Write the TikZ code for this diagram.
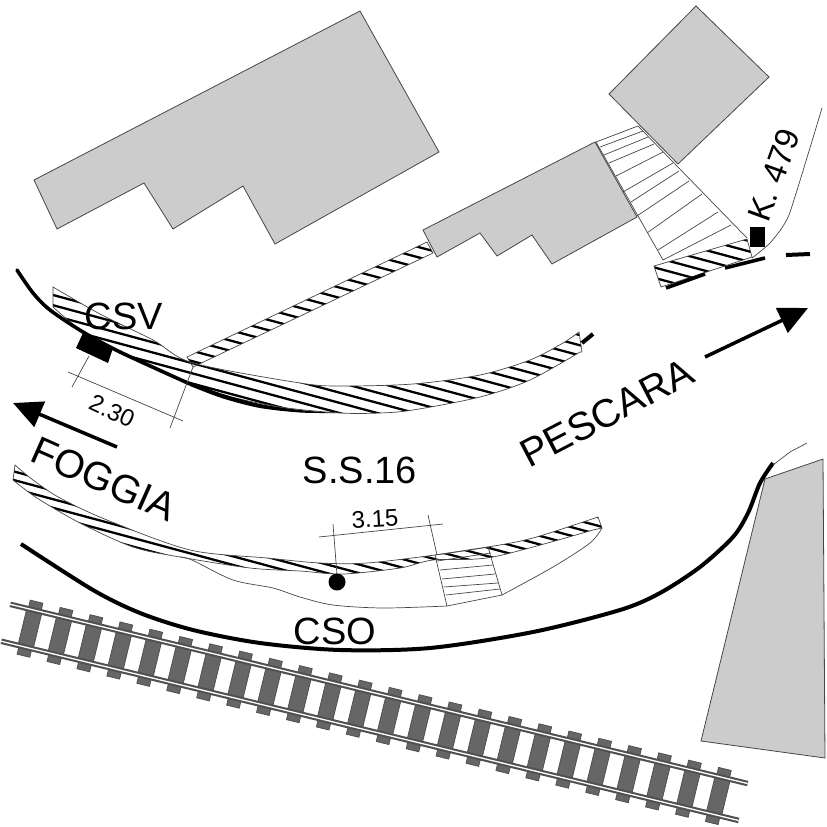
\documentclass[tikz,border=0pt]{standalone}
\usepackage{fontspec}
\setmainfont{Liberation Sans}
\usetikzlibrary{arrows.meta}
\definecolor{bldggray}{RGB}{204,204,204}
\definecolor{edgegray}{RGB}{70,70,70}
\definecolor{railgray}{RGB}{80,80,80}
\definecolor{tiegray}{RGB}{102,102,102}
\tikzset{
  bldg/.style={fill=bldggray,draw=edgegray,line width=0.8pt},
  thinln/.style={draw=edgegray,line width=0.7pt},
  hatchln/.style={black,line width=2.3pt},
  kerb/.style={black,line width=3.6pt},
  rail/.style={draw=railgray,double=white,double distance=1.3pt,line width=2.1pt},
  tie/.style={fill=tiegray,draw=railgray,line width=0.8pt},
  bigarrow/.style={black,line width=3.5pt,-{Triangle[length=29pt,width=27pt]}},
  biglabel/.style={inner sep=0pt,font=\fontsize{38}{40}\selectfont},
  roadlabel/.style={inner sep=0pt,font=\fontsize{39.5}{41}\selectfont},
  dimlabel/.style={inner sep=0pt,font=\fontsize{24}{26}\selectfont}
}
% strips, as closed paths in reference pixels
\newcommand{\mainstrip}{plot[smooth] coordinates {(53,287) (100,314) (153,340) (193,363) (300,383) (340,386) (413,384) (480,375) (530,360) (563,343) (579,332)} -- (582,352) -- plot[smooth] coordinates {(580,352) (530,380) (480,397) (413,410) (380,413) (340,413) (280,407) (223,395) (190,383) (120,352) (83,332) (53,307)} -- cycle}
\newcommand{\sidestrip}{(187,357) -- (427,242) -- (433,253) -- (193,367) -- cycle}
\newcommand{\lowstrip}{plot[smooth] coordinates {(15,465) (33,480) (60,498) (107,520) (190,550) (267,558) (320,563) (367,563) (435,555) (488,547) (533,538) (598,517)} -- (602,528) -- plot[smooth] coordinates {(593,530) (493,557) (433,560) (400,568) (343,574) (300,571) (250,568) (180,557) (133,547) (80,523) (37,498) (13,480)} -- cycle}
\newcommand{\cornerstrip}{(654,266) -- (747,239) -- (752,257) -- (661,287) -- cycle}
% #1 phase, #2 spacing
\newcommand{\hatchfill}[2]{\foreach \k in {-80,...,80} \draw[hatchln] (0,{#1+\k*#2}) -- (827,{#1+\k*#2+223});}

\begin{document}
\begin{tikzpicture}[x=1pt,y=-1pt]
  \useasboundingbox (0,0) rectangle (827,827);

  % buildings
  \draw[bldg] (34,180) -- (360,11) -- (439,152) -- (275,244) -- (243,186) -- (173,229) -- (144,183) -- (57,229) -- cycle;
  \draw[bldg] (423,230) -- (595,142) -- (637,217) -- (552,264) -- (532,235) -- (497,256) -- (480,233) -- (437,257) -- cycle;
  \draw[bldg] (609,94) -- (696,6) -- (769,77) -- (678,164) -- cycle;
  \draw[bldg] (765,479) -- (823,459) -- (825,758) -- (701,741) -- cycle;

  % hatched strips
  \begin{scope}
    \clip \mainstrip;
    \hatchfill{280.7}{10.2}
  \end{scope}
  \draw[thinln] \mainstrip;
  \begin{scope}
    \clip \sidestrip;
    \hatchfill{299}{10.3}
  \end{scope}
  \draw[thinln] \sidestrip;
  \begin{scope}
    \clip \lowstrip;
    \hatchfill{407.5}{8.6}
  \end{scope}
  \draw[thinln] \lowstrip;
  \begin{scope}
    \clip \cornerstrip;
    \hatchfill{91}{10.4}
  \end{scope}
  \draw[thinln] \cornerstrip;

  % stairs at the top right
  \draw[thinln] (596,142) -- (663,260);
  \draw[thinln] (638,126) -- (747,238);
  \foreach \xa/\ya/\xb/\yb in {596/142/638/126,600/147/643/131,604/155/648/137,609/163/654/144,616/176/663/152,623/192/673/163,631/202/679/171,637/216/689/181,647/233/702/194,658/250/718/212,663/260/731/225}
    \draw[thinln] (\xa,\ya) -- (\xb,\yb);
  \draw[thinln] plot[smooth,tension=0.3] coordinates {(752,258) (770,243) (789,215) (822,108)};

  % stairs and pavement at the bottom
  \draw[thinln] plot[smooth] coordinates {(180,557) (192,560) (233,580) (273,588) (300,597) (333,605) (383,608) (447,606)};
  \draw[thinln] (435,555) -- (447,606) -- (502,595) -- (488,547) -- cycle;
  \foreach \xa/\ya/\xb/\yb in {437/561/491/553,440/570/493/565,442/579/495/574,444/587/498/583,446/595/500/589}
    \draw[thinln] (\xa,\ya) -- (\xb,\yb);
  \draw[thinln] plot[smooth] coordinates {(502,595) (553,567) (590,543) (602,528)};

  % kerbs
  \draw[kerb,line cap=round] plot[smooth] coordinates {(17,270) (33,293) (50,310) (83,332) (120,352) (190,384)};
  \fill[black] plot[smooth] coordinates {(190,382) (223,394) (260,404) (300,410) (335,413)} -- plot[smooth] coordinates {(335,413) (300,412.5) (260,408) (223,398.5) (190,386)} -- cycle;
  \draw[kerb,line width=4pt] (582,343) -- (593,334);
  \draw[kerb] (666,288) -- (705,274);
  \draw[kerb] (725,268) -- (765,258);
  \draw[kerb,line width=4pt] (786,255) -- (810,254);
  \draw[kerb,line width=4pt] plot[smooth] coordinates {(21,544) (93,590) (140,613) (193,630) (260,643) (340,650) (430,648) (533,632) (620,610) (660,593) (700,567) (733,537) (748,513) (760,483) (773,463)};
  \draw[thinln] (773,465) -- (790,452) -- (807,443);

  % dimensions
  \draw[thinln] (193,367) -- (170,428);
  \draw[thinln] (68,372) -- (183,421);
  \draw[thinln] (89,356) -- (72,387);
  \draw[thinln] (319,537) -- (443,524);
  \draw[thinln] (333,524) -- (337,575);
  \draw[thinln] (428,515) -- (437,555);

  % markers
  \fill[black] (83,333) -- (113,348) -- (108,363) -- (76,348) -- cycle;
  \fill[black] (750,227) rectangle (765,247);
  \node[circle,fill=black,inner sep=0pt,minimum size=17pt] (dotcso) at (337,582) {};

  % railway
  \begin{scope}[shift={(30,628.7)},rotate=-13.66]
    \foreach \i in {0,...,23} {
      \draw[tie] ({\i*30.8-6.5},-27.8) rectangle ({\i*30.8+6.5},27.8);
      \draw[tie] ({\i*30.8-7.8},-19) rectangle ({\i*30.8+7.8},19);
    }
    \draw[rail] (-25,-19) -- (734,-19);
    \draw[rail] (-25,19) -- (734,19);
  \end{scope}

  % direction arrows
  \coordinate (fogtail) at (117,447);
  \coordinate (fogtip) at (13,403);
  \coordinate (pestail) at (705,357);
  \coordinate (pestip) at (808,308);
  \draw[bigarrow] (fogtail) -- (fogtip);
  \draw[bigarrow] (pestail) -- (pestip);

  % labels
  \node[biglabel] (csv) at (124,316) {CSV};
  \node[biglabel] (cso) at (335,631) {CSO};
  \node[biglabel] (ss) at (360,470) {S.S.16};
  \node[roadlabel,rotate=-24] (foggia) at (104,479) {FOGGIA};
  \node[roadlabel,rotate=27.5] (pescara) at (607,413) {PESCARA};
  \node[biglabel,font=\fontsize{33}{35}\selectfont,rotate=70] (km) at (774,175) {K. 479};
  \node[dimlabel,rotate=-25] (dima) at (112,411) {2.30};
  \node[dimlabel,rotate=3] (dimb) at (375,519) {3.15};
\end{tikzpicture}
\end{document}
